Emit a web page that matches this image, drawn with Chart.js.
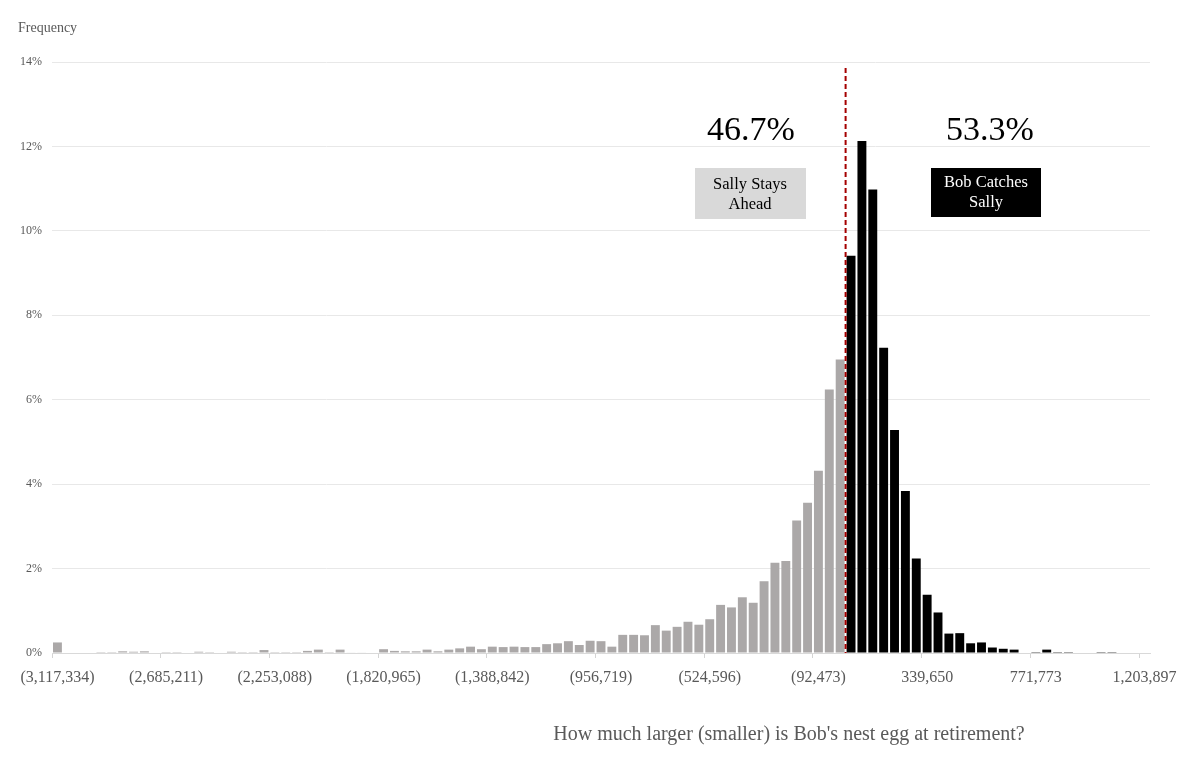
<!DOCTYPE html>
<html>
<head>
<meta charset="utf-8">
<script src="https://cdn.jsdelivr.net/npm/chart.js@4.4.1/dist/chart.umd.min.js"></script>
<style>
  body { margin: 0; background: #fff; }
  #wrap { width: 1200px; height: 759px; }
</style>
</head>
<body>
<div id="wrap"><canvas id="histChart" width="1200" height="759"></canvas></div>
<script>
// every 10th bin gets a label
const tickLabels = ['(3,117,334)', '(2,685,211)', '(2,253,088)', '(1,820,965)', '(1,388,842)',
  '(956,719)', '(524,596)', '(92,473)', '339,650', '771,773', '1,203,897'];

// frequency of each bin, in percent
const freqPct = [
  0.25, 0, 0, 0, 0.02, 0.02, 0.04, 0.03, 0.04, 0,
  0.02, 0.02, 0, 0.03, 0.02, 0, 0.03, 0.02, 0.02, 0.07,
  0.02, 0.02, 0.02, 0.05, 0.08, 0.02, 0.08, 0.01, 0.01, 0,
  0.09, 0.05, 0.04, 0.04, 0.08, 0.04, 0.08, 0.11, 0.15, 0.09,
  0.15, 0.14, 0.15, 0.14, 0.14, 0.21, 0.23, 0.28, 0.19, 0.29,
  0.28, 0.15, 0.43, 0.43, 0.42, 0.66, 0.53, 0.62, 0.74, 0.67,
  0.80, 1.14, 1.08, 1.32, 1.19, 1.70, 2.14, 2.18, 3.14, 3.56,
  4.32, 6.24, 6.95, 9.41, 12.13, 10.98, 7.23, 5.28, 3.84, 2.24,
  1.38, 0.96, 0.46, 0.47, 0.23, 0.25, 0.13, 0.10, 0.08, 0,
  0.02, 0.08, 0.02, 0.02, 0, 0, 0.02, 0.02, 0, 0, 0
];

const splitIndex = 73; // first bin where Bob comes out ahead
const sallyShare = '46.7%';
const bobShare = '53.3%';

const categories = freqPct.map((_, i) => (i % 10 === 0 ? tickLabels[i / 10] : ''));
const barColors = freqPct.map((_, i) => (i < splitIndex ? '#aba8a8' : '#000000'));

const serif = '"Liberation Serif", "Times New Roman", serif';

const annotations = {
  id: 'annotations',
  afterDatasetsDraw(chart) {
    const { ctx, chartArea, scales: { x } } = chart;
    const splitX = (x.getPixelForValue(splitIndex - 1) + x.getPixelForValue(splitIndex)) / 2;
    ctx.save();

    // dashed split line
    ctx.strokeStyle = '#a50000';
    ctx.lineWidth = 2;
    ctx.setLineDash([5, 3]);
    ctx.beginPath();
    ctx.moveTo(splitX, chartArea.top + 6);
    ctx.lineTo(splitX, chartArea.bottom);
    ctx.stroke();
    ctx.setLineDash([]);

    // share percentages
    ctx.fillStyle = '#000';
    ctx.textAlign = 'center';
    ctx.textBaseline = 'middle';
    ctx.font = '34px ' + serif;
    ctx.fillText(sallyShare, 751, 131);
    ctx.fillText(bobShare, 990, 131);

    // labelled boxes
    ctx.fillStyle = '#d9d9d9';
    ctx.fillRect(695, 168, 111, 51);
    ctx.fillStyle = '#000';
    ctx.fillRect(931, 168, 110, 49);

    ctx.font = '16.5px ' + serif;
    ctx.fillStyle = '#000';
    ctx.fillText('Sally Stays', 750, 185);
    ctx.fillText('Ahead', 750, 205);
    ctx.fillStyle = '#fff';
    ctx.fillText('Bob Catches', 986, 183);
    ctx.fillText('Sally', 986, 203);

    // axis titles
    ctx.fillStyle = '#595959';
    ctx.textAlign = 'left';
    ctx.font = '14px ' + serif;
    ctx.fillText('Frequency', 18, 28);
    ctx.textAlign = 'center';
    ctx.font = '20px ' + serif;
    ctx.fillText("How much larger (smaller) is Bob's nest egg at retirement?", 789, 735);
    ctx.restore();
  }
};

new Chart(document.getElementById('histChart'), {
  type: 'bar',
  data: {
    labels: categories,
    datasets: [{
      data: freqPct,
      backgroundColor: barColors,
      barPercentage: 0.82,
      categoryPercentage: 1.0
    }]
  },
  options: {
    responsive: false,
    animation: false,
    layout: { padding: { top: 62, right: 50, left: 0, bottom: 0 } },
    plugins: {
      legend: { display: false },
      tooltip: { enabled: false }
    },
    scales: {
      x: {
        offset: true,
        afterFit: (scale) => { scale.height = 106; },
        grid: {
          offset: true,
          drawOnChartArea: false,
          tickLength: 5,
          color: (c) => (c.index % 10 === 0 ? '#d4d4d4' : 'transparent')
        },
        border: { color: '#d9d9d9' },
        ticks: {
          autoSkip: false,
          maxRotation: 0,
          padding: 10,
          color: '#595959',
          font: { family: serif, size: 16 }
        }
      },
      y: {
        min: 0,
        max: 14,
        afterFit: (scale) => { scale.width = 52; },
        grid: { color: '#e8e8e8', drawTicks: false },
        border: { display: false },
        ticks: {
          stepSize: 2,
          padding: 10,
          color: '#595959',
          font: { family: serif, size: 12 },
          callback: (v) => v + '%'
        }
      }
    }
  },
  plugins: [annotations]
});
</script>
</body>
</html>
